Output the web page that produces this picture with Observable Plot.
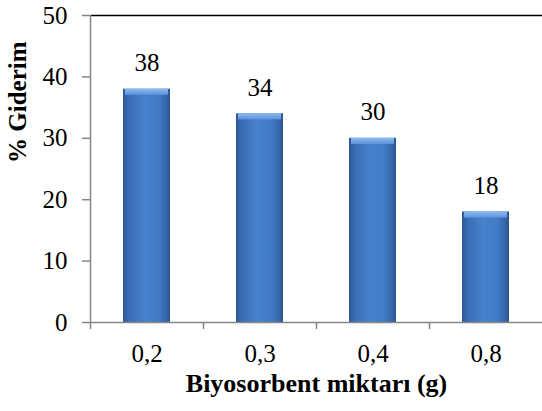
<!DOCTYPE html>
<html><head><meta charset="utf-8">
<script src="https://cdn.jsdelivr.net/npm/d3@7"></script>
<script src="https://cdn.jsdelivr.net/npm/@observablehq/plot@0.6"></script>
<style>body{margin:0;background:#fff} svg{display:block} svg text{font-family:"Times New Roman","Liberation Serif","DejaVu Serif",serif !important}</style>
</head><body><div id="chart"></div>
<script>
const categories = ["0,2", "0,3", "0,4", "0,8"];
const values = [38, 34, 30, 18];
const yTicks = [0, 10, 20, 30, 40, 50];
const xTitle = "Biyosorbent miktarı (g)";
const yTitle = "% Giderim";
const data = categories.map((c, i) => ({c, v: values[i]}));

const FONT = "'Times New Roman', 'Liberation Serif', 'DejaVu Serif', serif";
const GREY = "#868686";
const HALF_STEP = 56.5; // half of the category step (452px / 4 / 2)

function defsMark(index, scales, values, dim) {
  const svg = d3.create("svg:g");
  const defs = svg.append("defs");
  const g = defs.append("linearGradient").attr("id", "barGrad").attr("x1", 0).attr("x2", 1).attr("y1", 0).attr("y2", 0);
  [[0, "#2b5797"], [0.12, "#3a6db5"], [0.45, "#4681cc"], [0.75, "#427bc6"], [0.92, "#3566ab"], [1, "#2a528d"]]
    .forEach(([o, c]) => g.append("stop").attr("offset", o).attr("stop-color", c));
  const cap = defs.append("linearGradient").attr("id", "capGrad").attr("x1", 0).attr("x2", 0).attr("y1", 0).attr("y2", 1);
  [[0, "#8dbaf0"], [1, "#5d93db"]].forEach(([o, c]) => cap.append("stop").attr("offset", o).attr("stop-color", c));
  return svg.node();
}

const chart = Plot.plot({
  width: 542, height: 411,
  marginLeft: 90, marginRight: 0, marginTop: 15, marginBottom: 89,
  style: {fontFamily: FONT, fontSize: "25px", color: "#000", background: "#fff"},
  x: {domain: categories, paddingInner: 0.585, paddingOuter: 0.2925, axis: null},
  y: {domain: [0, 50], axis: null},
  marks: [
    defsMark,
    Plot.barY(data, {x: "c", y: "v", fill: "url(#barGrad)"}),
    Plot.barY(data, {x: "c", y1: d => d.v - 1, y2: "v", fill: "url(#capGrad)", insetLeft: 2, insetRight: 2}),
    Plot.ruleY([50], {stroke: "#000", strokeWidth: 1.5}),
    Plot.ruleY([0], {stroke: GREY, strokeWidth: 1.5}),
    Plot.ruleX([categories[0]], {x: d => d, y1: 0, y2: 50, dx: -HALF_STEP, stroke: GREY, strokeWidth: 1.5}),
    Plot.ruleX(categories, {x: d => d, y1: 0, y2: -1.15, dx: -HALF_STEP, stroke: GREY, strokeWidth: 1.5}),
    Plot.axisY(yTicks, {tickSize: 8, tickPadding: 15, stroke: GREY, strokeWidth: 1.5, fill: "#000", fontSize: 25, label: null, fontFamily: FONT}),
    Plot.axisX(categories, {tickSize: 0, tickPadding: 22, fill: "#000", fontSize: 25, label: null, fontFamily: FONT}),
    Plot.text(data, {x: "c", y: "v", text: d => String(d.v), dy: -26, fontSize: 25, fill: "#000", fontFamily: FONT}),
    Plot.text([xTitle], {frameAnchor: "bottom", dy: 69, fontSize: 26, fontWeight: "bold", fill: "#000", fontFamily: FONT}),
    Plot.text([yTitle], {frameAnchor: "left", dx: -73, dy: -6, rotate: -90, fontSize: 25, fontWeight: "bold", fill: "#000", fontFamily: FONT})
  ]
});
document.getElementById("chart").append(chart);
chart.querySelectorAll("*").forEach(el => { if (el.getBoundingClientRect) el.getBoundingClientRect(); getComputedStyle(el).fontFamily; });
</script>
</body></html>
